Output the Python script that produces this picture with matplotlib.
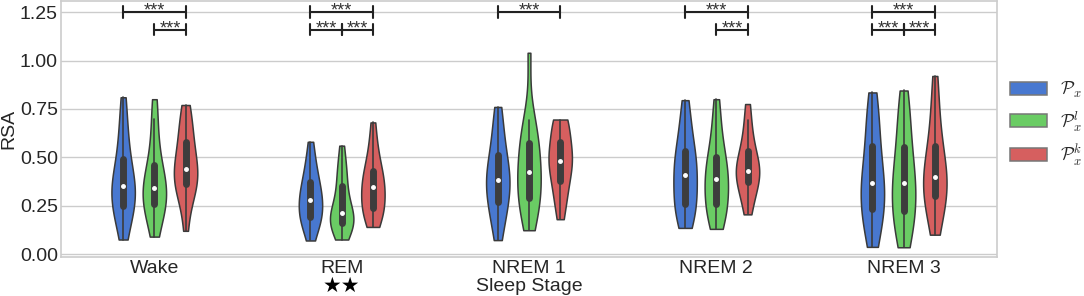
import numpy as np
import pandas as pd
import matplotlib
matplotlib.use("Agg")
import matplotlib.pyplot as plt
import seaborn as sns

# 睡眠阶段与三种表示
stages = ['Wake', 'REM', 'NREM 1', 'NREM 2', 'NREM 3']
reps = [r'$\mathcal{P}_x$', r'$\mathcal{P}_x^l$', r'$\mathcal{P}_x^k$']
colors = ['#4878d0', '#6acc64', '#d65f5f']

# 每个小提琴的样本值（从图中估计的分位数）
wake_px = [.075, .15, .20, .23, .25, .28, .31, .33, .35, .37, .40, .44, .49, .55, .62, .70, .81]
wake_pxl = [.09, .16, .20, .23, .26, .28, .30, .32, .34, .36, .39, .42, .46, .52, .60, .70, .80]
wake_pxk = [.12, .25, .30, .34, .36, .38, .40, .42, .44, .47, .50, .54, .58, .62, .67, .72, .77]

rem_px = [.07, .13, .16, .18, .19, .21, .24, .26, .28, .30, .32, .35, .37, .41, .45, .50, .58]
rem_pxl = [.075, .12, .14, .15, .16, .17, .18, .19, .21, .23, .26, .30, .35, .39, .43, .48, .56]
rem_pxk = [.14, .18, .20, .22, .24, .26, .29, .32, .345, .36, .38, .41, .43, .47, .52, .58, .68]

nrem1_px = [.072, .15, .20, .24, .27, .31, .34, .36, .385, .41, .44, .47, .51, .56, .62, .69, .76]
nrem1_pxl = [.123, .19, .23, .26, .29, .32, .36, .39, .425, .46, .49, .53, .575, .62, .67, .69, 1.04]
nrem1_pxk = [.18, .25, .30, .34, .375, .42, .45, .47, .483, .50, .53, .56, .58, .64, .68, .69, .695]

nrem2_px = [.135, .18, .21, .24, .26, .30, .34, .38, .41, .44, .47, .50, .53, .58, .64, .71, .795]
nrem2_pxl = [.13, .17, .20, .23, .26, .29, .32, .36, .39, .41, .44, .47, .50, .55, .62, .70, .80]
nrem2_pxk = [.205, .26, .30, .34, .37, .39, .41, .42, .43, .45, .47, .50, .53, .57, .62, .69, .775]

nrem3_px = [.037, .10, .15, .20, .235, .27, .30, .33, .366, .40, .44, .50, .56, .62, .69, .76, .835]
nrem3_pxl = [.035, .09, .14, .18, .22, .26, .30, .33, .366, .40, .44, .50, .555, .62, .69, .77, .845]
nrem3_pxk = [.10, .17, .22, .26, .30, .33, .35, .37, .40, .43, .47, .51, .56, .62, .70, .80, .92]

# 显著性标记: (阶段索引, 起始表示, 结束表示, 层级)
sig_pairs = [
    (0, 0, 2, 0), (0, 1, 2, 1),
    (1, 0, 2, 0), (1, 0, 1, 1), (1, 1, 2, 1),
    (2, 0, 2, 0),
    (3, 0, 2, 0), (3, 1, 2, 1),
    (4, 0, 2, 0), (4, 0, 1, 1), (4, 1, 2, 1),
]
sig_levels = [1.25, 1.16]

all_data = [
    [wake_px, wake_pxl, wake_pxk],
    [rem_px, rem_pxl, rem_pxk],
    [nrem1_px, nrem1_pxl, nrem1_pxk],
    [nrem2_px, nrem2_pxl, nrem2_pxk],
    [nrem3_px, nrem3_pxl, nrem3_pxk],
]

rows = []
for stage, group in zip(stages, all_data):
    for rep, vals in zip(reps, group):
        for v in vals:
            rows.append({'Sleep Stage': stage, 'rep': rep, 'RSA': v})
df = pd.DataFrame(rows)

sns.set_theme(style='whitegrid')
plt.rcParams['font.family'] = ['Liberation Sans', 'DejaVu Sans']
plt.rcParams['mathtext.fontset'] = 'cm'

fig, ax = plt.subplots(figsize=(10.84, 2.96), dpi=100)
fig.subplots_adjust(left=0.056, right=0.92, top=0.995, bottom=0.132)

violin_width = 0.5
sns.violinplot(data=df, x='Sleep Stage', y='RSA', hue='rep', hue_order=reps,
               order=stages, palette=colors, cut=0, density_norm='width',
               width=violin_width, gap=0.25, inner='box', linewidth=1.1,
               linecolor='#3a3a3a', saturation=1,
               inner_kws={'box_width': 5, 'whis_width': 1.2, 'marker': 'o',
                          'markersize': 2.5, 'color': '#3d3d3d'},
               ax=ax)

# 显著性横线
offset = violin_width / 3
cap = 0.03
for stage_idx, a, b, level in sig_pairs:
    x1 = stage_idx + (a - 1) * offset
    x2 = stage_idx + (b - 1) * offset
    y = sig_levels[level]
    ax.plot([x1, x2], [y, y], color='#222222', lw=1.5, clip_on=False, zorder=5)
    for xc in (x1, x2):
        ax.plot([xc, xc], [y - cap, y + cap], color='#222222', lw=1.5,
                clip_on=False, zorder=5)
    ax.text((x1 + x2) / 2, y - 0.04, '***', ha='center', va='bottom',
            fontsize=13, color='#333333', clip_on=False, zorder=6)

ax.set_ylim(-0.015, 1.305)
ax.set_xlim(-0.5, 4.5)
ax.set_yticks([0.0, 0.25, 0.5, 0.75, 1.0, 1.25])
ax.set_yticklabels(['0.00', '0.25', '0.50', '0.75', '1.00', '1.25'])
ax.tick_params(axis='both', labelsize=14, length=0, pad=2)
ax.set_ylabel('RSA', fontsize=14, labelpad=2)
ax.set_xlabel('Sleep Stage', fontsize=14, labelpad=1)

for sp in ax.spines.values():
    sp.set_color('#cccccc')
    sp.set_linewidth(1.2)

# REM 下方的星标
ax.text(1, -0.075, '\u2605\u2605', transform=ax.get_xaxis_transform(),
        ha='center', va='top', fontsize=15, color='black',
        family=['DejaVu Sans'])

handles, labels = ax.get_legend_handles_labels()
leg = ax.legend(handles, labels, loc='center left', bbox_to_anchor=(1.0, 0.52),
                frameon=False, fontsize=13, handlelength=2.05, handleheight=0.75,
                labelspacing=0.5, borderaxespad=0.3, handletextpad=0.7)
for p in leg.get_patches():
    p.set_edgecolor('#777777')

fig.savefig('out.png', dpi=100)
